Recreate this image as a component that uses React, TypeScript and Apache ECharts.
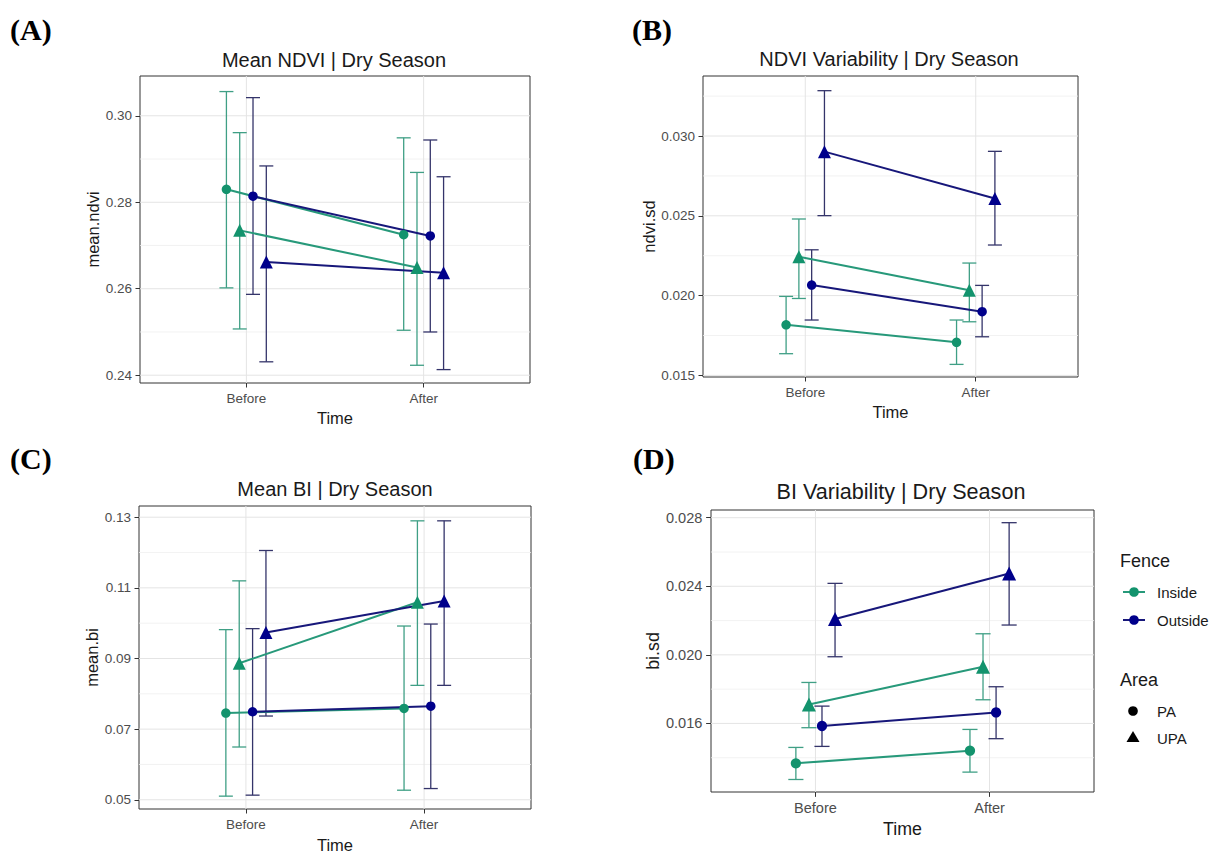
import React, { useEffect, useRef } from "react";
import * as echarts from "echarts";

// ---------- DATA ----------
const times = ["Before", "After"];

// each row: [mean, lower, upper] for Before, After
// (A) Mean NDVI
const ndviMeanInsidePA = [[0.2830, 0.2602, 0.3056], [0.2725, 0.2504, 0.2949]];
const ndviMeanInsideUPA = [[0.2735, 0.2507, 0.2961], [0.2649, 0.2423, 0.2869]];
const ndviMeanOutsidePA = [[0.2814, 0.2587, 0.3042], [0.2722, 0.2500, 0.2944]];
const ndviMeanOutsideUPA = [[0.2662, 0.2431, 0.2884], [0.2637, 0.2413, 0.2859]];
const ndviMeanTicks = [0.24, 0.26, 0.28, 0.30];

// (B) NDVI variability
const ndviSdInsidePA = [[0.01817, 0.01636, 0.01995], [0.01707, 0.01569, 0.01847]];
const ndviSdInsideUPA = [[0.02244, 0.01982, 0.0248], [0.02033, 0.01836, 0.02204]];
const ndviSdOutsidePA = [[0.02066, 0.01847, 0.02287], [0.01899, 0.01742, 0.02064]];
const ndviSdOutsideUPA = [[0.02902, 0.02501, 0.03284], [0.02609, 0.02317, 0.02904]];
const ndviSdTicks = [0.015, 0.02, 0.025, 0.03];

// (C) Mean BI
const biMeanInsidePA = [[0.07455, 0.05103, 0.09817], [0.07586, 0.05271, 0.09919]];
const biMeanInsideUPA = [[0.08865, 0.06494, 0.11198], [0.10592, 0.08239, 0.12897]];
const biMeanOutsidePA = [[0.07492, 0.05131, 0.09845], [0.07651, 0.05318, 0.09975]];
const biMeanOutsideUPA = [[0.09733, 0.07371, 0.12057], [0.10629, 0.08239, 0.12897]];
const biMeanTicks = [0.05, 0.07, 0.09, 0.11, 0.13];

// (D) BI variability
const biSdInsidePA = [[0.01367, 0.01273, 0.0146], [0.01441, 0.01316, 0.01565]];
const biSdInsideUPA = [[0.01711, 0.01575, 0.01839], [0.01931, 0.01738, 0.02123]];
const biSdOutsidePA = [[0.01585, 0.01466, 0.01701], [0.01664, 0.01511, 0.01814]];
const biSdOutsideUPA = [[0.02209, 0.01989, 0.02417], [0.02475, 0.02174, 0.02771]];
const biSdTicks = [0.016, 0.02, 0.024, 0.028];

const fenceLabels = ["Inside", "Outside"];
const areaLabels = ["PA", "UPA"];

// ---------- STYLE / LAYOUT ----------
const FONT = "'Liberation Sans', Arial, sans-serif";
const GREEN_PT = "#13936d";
const GREEN_LINE = "#27997a";
const GREEN_ERR = "#3f9f85";
const NAVY_PT = "#00008b";
const NAVY_LINE = "#17177a";
const NAVY_ERR = "#34346a";
const DODGE = [-0.1125, -0.0375, 0.0375, 0.1125];

const groupsStyle = [
  { pt: GREEN_PT, line: GREEN_LINE, err: GREEN_ERR, symbol: "circle" },
  { pt: GREEN_PT, line: GREEN_LINE, err: GREEN_ERR, symbol: "triangle" },
  { pt: NAVY_PT, line: NAVY_LINE, err: NAVY_ERR, symbol: "circle" },
  { pt: NAVY_PT, line: NAVY_LINE, err: NAVY_ERR, symbol: "triangle" },
];

const panels = [
  {
    label: "(A)", labelX: 10, labelY: 29,
    title: "Mean NDVI | Dry Season", titleX: 334, titleY: 60,
    grid: { left: 140, top: 76, width: 390, height: 307 },
    yMin: 0.2382, yMax: 0.3092, ticks: ndviMeanTicks, dec: 2,
    yName: "mean.ndvi", yGap: 37, xGap: 26, k: 1,
    groups: [ndviMeanInsidePA, ndviMeanInsideUPA, ndviMeanOutsidePA, ndviMeanOutsideUPA],
  },
  {
    label: "(B)", labelX: 632, labelY: 29,
    title: "NDVI Variability | Dry Season", titleX: 889, titleY: 59,
    grid: { left: 703, top: 76, width: 375, height: 301 },
    yMin: 0.0149, yMax: 0.03376, ticks: ndviSdTicks, dec: 3,
    yName: "ndvi.sd", yGap: 45, xGap: 26, k: 1,
    groups: [ndviSdInsidePA, ndviSdInsideUPA, ndviSdOutsidePA, ndviSdOutsideUPA],
  },
  {
    label: "(C)", labelX: 10, labelY: 458,
    title: "Mean BI | Dry Season", titleX: 335, titleY: 489,
    grid: { left: 139, top: 506, width: 392, height: 306 },
    yMin: 0.04739, yMax: 0.13317, ticks: biMeanTicks, dec: 2,
    yName: "mean.bi", yGap: 35, xGap: 27, k: 1,
    groups: [biMeanInsidePA, biMeanInsideUPA, biMeanOutsidePA, biMeanOutsideUPA],
  },
  {
    label: "(D)", labelX: 633, labelY: 458,
    title: "BI Variability | Dry Season", titleX: 901, titleY: 491,
    grid: { left: 711, top: 510, width: 383, height: 282 },
    yMin: 0.012, yMax: 0.02845, ticks: biSdTicks, dec: 3,
    yName: "bi.sd", yGap: 49, xGap: 28, k: 1.08,
    groups: [biSdInsidePA, biSdInsideUPA, biSdOutsidePA, biSdOutsideUPA],
  },
];

function minorValues(ticks: number[], lo: number, hi: number) {
  const step = ticks[1] - ticks[0];
  const out: number[] = [];
  const cands = [ticks[0] - step / 2, ...ticks.map((t) => t + step / 2)];
  cands.forEach((c) => {
    if (c > lo + 1e-9 && c < hi - 1e-9) out.push(c);
  });
  return out;
}

function buildOption() {
  const grids: any[] = [];
  const xAxes: any[] = [];
  const yAxes: any[] = [];
  const series: any[] = [];
  const graphics: any[] = [];

  panels.forEach((p, i) => {
    const k = p.k;
    grids.push({
      ...p.grid,
      show: true,
      borderColor: "#333333",
      borderWidth: 1,
      backgroundColor: "#ffffff",
      containLabel: false,
    });
    xAxes.push({
      gridIndex: i,
      type: "value",
      min: 0.4,
      max: 2.6,
      axisLine: { show: false },
      splitLine: { show: false },
      axisTick: { show: true, customValues: [1, 2], length: 4.5 * k, lineStyle: { color: "#333333", width: 1 } },
      axisLabel: {
        customValues: [1, 2],
        formatter: (v: number) => times[Math.round(v) - 1] ?? "",
        color: "#4d4d4d",
        fontSize: 13.5 * k,
        fontFamily: FONT,
        margin: 8 * k,
      },
      name: "Time",
      nameLocation: "middle",
      nameGap: p.xGap,
      nameTextStyle: { fontSize: 16.5 * k, color: "#1a1a1a", fontFamily: FONT },
    });
    yAxes.push({
      gridIndex: i,
      type: "value",
      min: p.yMin,
      max: p.yMax,
      axisLine: { show: false },
      splitLine: { show: false },
      axisTick: { show: true, customValues: p.ticks, length: 4.5 * k, lineStyle: { color: "#333333", width: 1 } },
      axisLabel: {
        customValues: p.ticks,
        formatter: (v: number) => v.toFixed(p.dec),
        color: "#4d4d4d",
        fontSize: 13.5 * k,
        fontFamily: FONT,
        margin: 8 * k,
      },
      name: p.yName,
      nameLocation: "middle",
      nameGap: p.yGap,
      nameTextStyle: { fontSize: 16.5 * k, color: "#1a1a1a", fontFamily: FONT },
    });

    // grid lines
    const mid = (p.yMin + p.yMax) / 2;
    const gl: number[][] = [];
    p.ticks.forEach((t) => gl.push([1, t, 0, 1]));
    minorValues(p.ticks, p.yMin, p.yMax).forEach((t) => gl.push([1, t, 0, 0]));
    [1, 2].forEach((x) => gl.push([x, mid, 1, 1]));
    series.push({
      type: "custom",
      xAxisIndex: i,
      yAxisIndex: i,
      silent: true,
      z: 1,
      encode: { x: 0, y: 1 },
      data: gl,
      renderItem: (params: any, api: any) => {
        const cs = params.coordSys;
        const orient = api.value(2);
        const major = api.value(3);
        const style = { stroke: major ? "#e4e4e4" : "#efefef", lineWidth: major ? 1 : 0.8 };
        const pt = api.coord([api.value(0), api.value(1)]);
        if (orient === 0) {
          return { type: "line", shape: { x1: cs.x, y1: pt[1], x2: cs.x + cs.width, y2: pt[1] }, style };
        }
        return { type: "line", shape: { x1: pt[0], y1: cs.y, x2: pt[0], y2: cs.y + cs.height }, style };
      },
    });

    p.groups.forEach((g, gi) => {
      const st = groupsStyle[gi];
      const off = DODGE[gi];
      const name = fenceLabels[gi < 2 ? 0 : 1] + " " + areaLabels[gi % 2];
      // error bars
      series.push({
        type: "custom",
        name: name + " error",
        xAxisIndex: i,
        yAxisIndex: i,
        silent: true,
        z: 2,
        encode: { x: 0, y: [1, 2] },
        data: g.map((row, ti) => [ti + 1 + off, row[1], row[2]]),
        renderItem: (params: any, api: any) => {
          const x = api.value(0);
          const lo = api.coord([x, api.value(1)]);
          const hi = api.coord([x, api.value(2)]);
          const hw = 7 * k;
          const style = { stroke: st.err, lineWidth: 1.3 };
          return {
            type: "group",
            children: [
              { type: "line", shape: { x1: lo[0], y1: lo[1], x2: hi[0], y2: hi[1] }, style },
              { type: "line", shape: { x1: lo[0] - hw, y1: lo[1], x2: lo[0] + hw, y2: lo[1] }, style },
              { type: "line", shape: { x1: hi[0] - hw, y1: hi[1], x2: hi[0] + hw, y2: hi[1] }, style },
            ],
          };
        },
      });
      // line + points
      series.push({
        type: "line",
        name,
        xAxisIndex: i,
        yAxisIndex: i,
        z: 3,
        data: g.map((row, ti) => [ti + 1 + off, row[0]]),
        symbol: st.symbol,
        symbolSize: (st.symbol === "circle" ? 9.5 : 13) * k,
        showSymbol: true,
        lineStyle: { color: st.line, width: 2 },
        itemStyle: { color: st.pt, borderWidth: 0 },
        emphasis: { disabled: true },
      });
    });

    graphics.push({
      type: "text",
      x: p.labelX,
      y: p.labelY,
      style: {
        text: p.label,
        font: "bold 30px 'Liberation Serif', 'Times New Roman', serif",
        fill: "#000000",
        textAlign: "left",
        textVerticalAlign: "middle",
        align: "left",
        verticalAlign: "middle",
      },
    });
    graphics.push({
      type: "text",
      x: p.titleX,
      y: p.titleY,
      style: {
        text: p.title,
        font: `${20 * k}px ${FONT}`,
        fill: "#1a1a1a",
        textAlign: "center",
        textVerticalAlign: "middle",
        align: "center",
        verticalAlign: "middle",
      },
    });
  });

  // legend (drawn)
  const txt = (text: string, x: number, y: number, size: number) => ({
    type: "text",
    x,
    y,
    style: {
      text,
      font: `${size}px ${FONT}`,
      fill: "#1a1a1a",
      textAlign: "left",
      textVerticalAlign: "middle",
      align: "left",
      verticalAlign: "middle",
    },
  });
  graphics.push(txt("Fence", 1120, 561, 18));
  [
    { label: fenceLabels[0], color: GREEN_PT, line: GREEN_LINE, y: 592 },
    { label: fenceLabels[1], color: NAVY_PT, line: NAVY_LINE, y: 620 },
  ].forEach((it) => {
    graphics.push({ type: "line", shape: { x1: 1123, y1: it.y, x2: 1145, y2: it.y }, style: { stroke: it.line, lineWidth: 2 } });
    graphics.push({ type: "circle", shape: { cx: 1134, cy: it.y, r: 4.8 }, style: { fill: it.color } });
    graphics.push(txt(it.label, 1157, it.y, 15));
  });
  graphics.push(txt("Area", 1120, 680, 18));
  graphics.push({ type: "circle", shape: { cx: 1133, cy: 711, r: 4.8 }, style: { fill: "#000000" } });
  graphics.push(txt(areaLabels[0], 1157, 711, 15));
  graphics.push({
    type: "polygon",
    shape: { points: [[1133, 731], [1139.5, 742], [1126.5, 742]] },
    style: { fill: "#000000" },
  });
  graphics.push(txt(areaLabels[1], 1157, 738, 15));

  return {
    animation: false,
    backgroundColor: "#ffffff",
    textStyle: { fontFamily: FONT },
    grid: grids,
    xAxis: xAxes,
    yAxis: yAxes,
    series,
    graphic: graphics,
  };
}

export default function App() {
  const ref = useRef<HTMLDivElement>(null);
  useEffect(() => {
    if (!ref.current) return;
    const chart = echarts.init(ref.current, undefined, { renderer: "svg" });
    chart.setOption(buildOption() as any);
    return () => chart.dispose();
  }, []);
  return (
    <div
      ref={ref}
      style={{ position: "absolute", left: 0, top: 0, width: 1215, height: 854, background: "#ffffff" }}
    />
  );
}
